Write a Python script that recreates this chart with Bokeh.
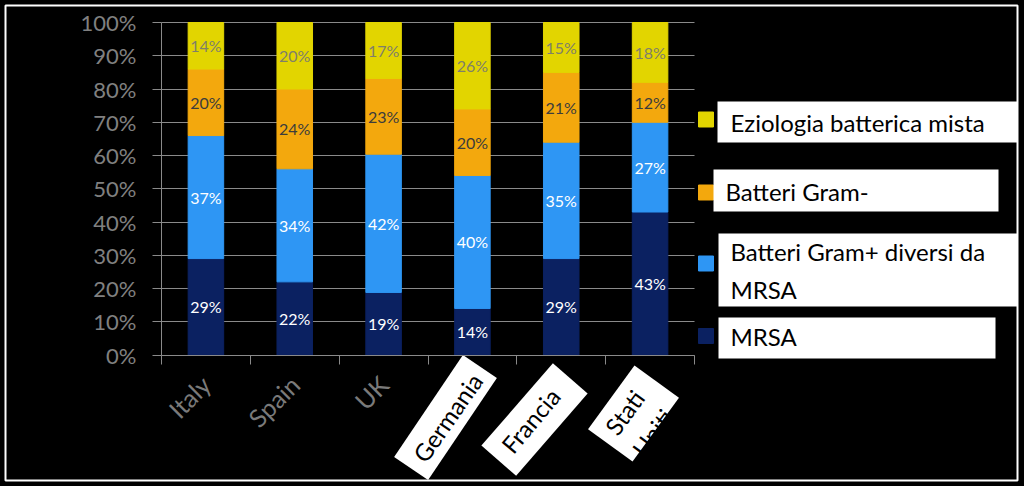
import math
import pandas as pd
from bokeh.plotting import figure
from bokeh.models import ColumnDataSource, FixedTicker, NumeralTickFormatter, Range1d
from bokeh.core.properties import value
from bokeh.embed import file_html
from bokeh.resources import INLINE

# ---------------- data ----------------
countries = ["Italy", "Spain", "UK", "Germania", "Francia", "Stati Uniti"]
mrsa = [29, 22, 19, 14, 29, 43]
gram_pos = [37, 34, 42, 40, 35, 27]
gram_neg = [20, 24, 23, 20, 21, 12]
mista = [14, 20, 17, 26, 15, 18]
series_keys = ["mrsa", "gram_pos", "gram_neg", "mista"]
legend_labels = ["MRSA", "Batteri Gram+ diversi da\nMRSA", "Batteri Gram-", "Eziologia batterica mista"]
y_ticks = [0.0, 0.1, 0.2, 0.3, 0.4, 0.5, 0.6, 0.7, 0.8, 0.9, 1.0]
boxed_countries = ["Germania", "Francia", "Stati Uniti"]

# ---------------- styles ----------------
colors = ["#0B2161", "#2E96F4", "#F3A80D", "#E2D500"]
label_colors = ["#FFFFFF", "#FFFFFF", "#3C3C3C", "#7F7F6A"]
GREY = "#8A8A8A"
FONT = "Lato"

# ---------------- layout (pixels in the figure) ----------------
W, H = 1024, 486
X0_PX, X6_PX = 161.0, 694.0      # left / right end of category axis
Y0_PX, Y1_PX = 354.5, 22.0       # 0% and 100% lines
n = len(countries)
sx = (X6_PX - X0_PX) / n
sy = Y0_PX - Y1_PX


def dx(px):
    return (px - X0_PX) / sx


def dy(py):
    return (Y0_PX - py) / sy


p = figure(width=W, height=H, output_backend="svg", toolbar_location=None,
           x_range=Range1d(-X0_PX / sx, (W - X0_PX) / sx),
           y_range=Range1d(-(H - Y0_PX) / sy, 1 + Y1_PX / sy),
           min_border=0, background_fill_color="black", border_fill_color="black",
           outline_line_color=None)

# outer white frame
p.quad(left=[dx(5)], right=[dx(1017)], top=[dy(5)], bottom=[dy(480)],
       fill_color=None, line_color="white", line_width=2)

# ---------------- bars ----------------
df = pd.DataFrame({"country": countries, "mrsa": mrsa, "gram_pos": gram_pos,
                   "gram_neg": gram_neg, "mista": mista})
df["x"] = [i + 0.5 for i in range(n)]
total = df[series_keys].sum(axis=1)
frac_keys = []
for k in series_keys:
    df[k + "_f"] = df[k] / total
    frac_keys.append(k + "_f")
cum = 0
for k in series_keys:
    df[k + "_mid"] = cum + df[k + "_f"] / 2
    df[k + "_txt"] = df[k].astype(str) + "%"
    cum = cum + df[k + "_f"]
src = ColumnDataSource(df)

p.vbar_stack(frac_keys, x="x", width=0.4, color=colors, source=src)

for k, c in zip(series_keys, label_colors):
    p.text(x="x", y=k + "_mid", text=k + "_txt", source=src, text_align="center",
           text_baseline="middle", text_color=c, text_font=value(FONT),
           text_font_size="16px")

# ---------------- axes & grid ----------------
p.xgrid.visible = False
p.ygrid.ticker = FixedTicker(ticks=y_ticks)
p.ygrid.grid_line_color = GREY
p.ygrid.bounds = (0, 1)
p.ygrid.cross_bounds = (0, n)

ya = p.yaxis[0]
ya.fixed_location = 0
ya.bounds = (0, 1)
ya.ticker = FixedTicker(ticks=y_ticks, minor_ticks=[])
ya.formatter = NumeralTickFormatter(format="0%")
ya.axis_line_color = GREY
ya.major_tick_line_color = GREY
ya.major_tick_out = 9
ya.major_tick_in = 0
ya.minor_tick_line_color = None
ya.major_label_text_font = FONT
ya.major_label_text_font_size = "22px"
ya.major_label_text_color = "#808080"
ya.major_label_standoff = 16

xa = p.xaxis[0]
xa.fixed_location = 0
xa.bounds = (0, n)
centers = [i + 0.5 for i in range(n)]
xa.ticker = FixedTicker(ticks=centers, minor_ticks=list(range(n + 1)))
xa.major_label_overrides = {c: ("" if name in boxed_countries else name)
                            for c, name in zip(centers, countries)}
xa.major_label_orientation = math.pi / 4
xa.axis_line_color = GREY
xa.major_tick_line_color = None
xa.major_tick_out = 0
xa.major_tick_in = 0
xa.minor_tick_line_color = GREY
xa.minor_tick_out = 9
xa.minor_tick_in = 0
xa.major_label_text_font = FONT
xa.major_label_text_font_size = "25px"
xa.major_label_text_color = "#7A7A7A"
xa.major_label_standoff = 16

# ---------------- boxed category labels ----------------
box_px = [(445, 417), (534, 419), (633, 413)]
box_size = [(123, 41), (109, 46), (79, 55)]
box_angle = [56, 49, 54]
txt_px = [(447, 417), (530, 420), (638, 422)]
txt_angle = [55, 50, 54]
p.rect(x=[dx(a) for a, b in box_px], y=[dy(b) for a, b in box_px],
       width=[w for w, h in box_size], height=[h for w, h in box_size],
       width_units="screen", height_units="screen", angle=box_angle,
       angle_units="deg", fill_color="white", line_color=None)
p.text(x=[dx(a) for a, b in txt_px], y=[dy(b) for a, b in txt_px],
       text=[c.replace(" ", "\n") for c in boxed_countries], angle=txt_angle,
       angle_units="deg", text_align="center", text_baseline="middle",
       text_color="black", text_font=value(FONT), text_font_size="24px",
       text_line_height=1.2)

# ---------------- legend ----------------
leg_sq_y = [335.5, 263, 192, 119]          # MRSA, Gram+, Gram-, mista
leg_box = [(718, 995, 317, 358), (718, 1017, 233, 306),
           (713, 998, 169, 211), (717, 1017, 101, 142)]
leg_txt = [(730, 336), (730, 270), (725, 191), (730, 122)]
p.scatter(x=[dx(705.5)] * 4, y=[dy(v) for v in leg_sq_y], marker="square",
          size=15, color=colors)
p.quad(left=[dx(b[0]) for b in leg_box], right=[dx(b[1]) for b in leg_box],
       top=[dy(b[2]) for b in leg_box], bottom=[dy(b[3]) for b in leg_box],
       fill_color="white", line_color=None)
p.text(x=[dx(a) for a, b in leg_txt], y=[dy(b) for a, b in leg_txt],
       text=legend_labels, text_align="left", text_baseline="middle",
       text_color="black", text_font=value(FONT), text_font_size="24px",
       text_line_height=1.3)

html = file_html(p, INLINE)
html = html.replace("</head>", "<style>html, body { background-color: #000000; }</style></head>", 1)
open("out.html", "w").write(html)
